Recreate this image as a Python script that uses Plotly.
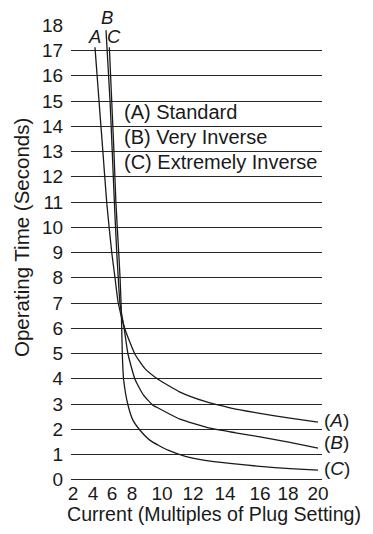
import plotly.graph_objects as go

# ---- data ----
current_A = [3.72, 4.01, 4.29, 4.56, 4.92, 5.16, 5.39, 5.87, 6.59, 7.30, 8.24, 9.82, 11.61, 13.40, 15.55, 17.70, 19.71]
time_A    = [17.13, 15.0, 12.97, 10.99, 9.01, 7.98, 6.99, 5.96, 4.97, 4.40, 3.98, 3.47, 3.10, 2.85, 2.63, 2.44, 2.28]

current_B = [4.51, 4.80, 4.96, 5.11, 5.28, 5.39, 5.51, 5.82, 6.09, 6.59, 7.20, 7.88, 8.15, 9.82, 11.97, 13.80, 15.55, 17.70, 19.71]
time_B    = [17.80, 15.0, 12.97, 10.99, 9.01, 7.98, 6.99, 5.96, 4.97, 3.98, 3.35, 2.95, 2.87, 2.40, 2.04, 1.86, 1.70, 1.48, 1.25]

current_C = [4.75, 4.92, 5.08, 5.22, 5.42, 5.52, 5.59, 5.64, 5.68, 5.77, 6.09, 6.45, 6.95, 7.67, 8.96, 10.20, 11.61, 13.40, 15.55, 17.70, 19.71]
time_C    = [17.13, 15.0, 12.97, 10.99, 9.01, 7.98, 6.99, 5.96, 4.97, 3.98, 2.95, 2.35, 1.96, 1.56, 1.17, 0.93, 0.77, 0.65, 0.53, 0.44, 0.38]

y_ticks = list(range(0, 19))
x_tick_text = ["2", "4", "6", "8", "10", "12", "14", "16", "18", "20"]
x_tick_at = [2.14, 3.58, 4.94, 6.37, 8.53, 10.75, 13.04, 15.55, 17.56, 19.71]

legend_lines = ["(A) Standard", "(B) Very Inverse", "(C) Extremely Inverse"]
curve_names = ["A", "B", "C"]

FONT = "Liberation Sans, Arial, Helvetica, sans-serif"
INK = "#1a1a1a"

fig = go.Figure()
for xs, ys, name in [(current_A, time_A, "A"), (current_B, time_B, "B"), (current_C, time_C, "C")]:
    fig.add_trace(go.Scatter(
        x=xs, y=ys, mode="lines", name=name, showlegend=False,
        line=dict(color=INK, width=1.3, shape="spline", smoothing=0.5),
        hoverinfo="skip"))

annotations = []
# top curve letters (paper coords so they can sit above the plot area)
top_pos = {"A": (3.65, 0.974), "B": (4.56, 1.0154), "C": (5.09, 0.974)}
for n in curve_names:
    x, y = top_pos[n]
    annotations.append(dict(x=x, y=y, xref="x", yref="paper", text=f"<i>{n}</i>",
                            xanchor="center", yanchor="middle",
                            showarrow=False, font=dict(size=18.5, color=INK, family=FONT)))
# right-end letters
end_y = {"A": 2.35, "B": 1.49, "C": 0.46}
for n in curve_names:
    annotations.append(dict(x=1.0, y=end_y[n] / 18.0, xref="paper", yref="paper",
                            text=f"(<i>{n}</i>)", xanchor="left", yanchor="middle",
                            showarrow=False, font=dict(size=19, color=INK, family=FONT)))
# legend text
for i, t in enumerate(legend_lines):
    annotations.append(dict(x=5.66, y=14.57 - i * 0.99, xref="x", yref="y", text=t,
                            xanchor="left", yanchor="middle", showarrow=False,
                            font=dict(size=20, color=INK, family=FONT)))
# axis titles
annotations.append(dict(x=-0.195, y=0.532, xref="paper", yref="paper",
                        xanchor="center", yanchor="middle",
                        text="Operating Time (Seconds)", textangle=-90, showarrow=False,
                        font=dict(size=20.5, color=INK, family=FONT)))
annotations.append(dict(x=0.57, y=-0.0747, xref="paper", yref="paper",
                        xanchor="center", yanchor="middle",
                        text="Current (Multiples of Plug Setting)", showarrow=False,
                        font=dict(size=19.6, color=INK, family=FONT)))

# page body has an 8px margin: shrink the figure so the plot lands where the reference's does
fig.update_layout(
    width=365, height=526,
    margin=dict(l=63, r=51, t=17, b=54, autoexpand=False),
    paper_bgcolor="white", plot_bgcolor="white",
    annotations=annotations,
    font=dict(family=FONT, color=INK, size=19),
)
fig.update_xaxes(
    range=[2, 20], showgrid=False, zeroline=False, showline=False, automargin=False,
    tickmode="array", tickvals=x_tick_at, ticktext=x_tick_text,
    ticks="",
    tickfont=dict(size=19, color=INK, family=FONT),
)
fig.update_yaxes(
    range=[-0.01, 18.01], showgrid=True, gridcolor="#262626", gridwidth=1.4,
    zeroline=True, zerolinecolor="#262626", zerolinewidth=1.4, showline=False,
    automargin=False,
    tickmode="array", tickvals=y_ticks,
    ticks="outside", ticklen=3, tickcolor="rgba(0,0,0,0)",
    tickfont=dict(size=19, color=INK, family=FONT),
)

fig.write_html("out.html")
